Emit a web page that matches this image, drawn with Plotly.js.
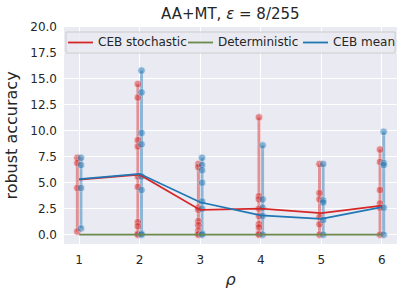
<!DOCTYPE html>
<html>
<head>
<meta charset="utf-8">
<script src="https://cdn.plot.ly/plotly-3.0.1.min.js"></script>
<style>html,body{margin:0;padding:0;background:#fff;}#chart{width:404px;height:294px;}</style>
</head>
<body>
<div id="chart"></div>
<script>
// rho values
var rhoValues = [1, 2, 3, 4, 5, 6];
// individual runs, CEB stochastic
var stochRuns = [
  [7.4, 6.9, 4.5, 0.3],
  [14.5, 13.2, 9.1, 8.5, 5.6, 4.6, 1.2, 0.8, 0.1, 0.0],
  [6.8, 6.5, 2.6, 2.4, 1.3, 0.9, 0.4, 0.1, 0.0],
  [11.3, 3.7, 3.4, 2.5, 1.8, 1.0, 0.7, 0.1, 0.0],
  [6.8, 4.0, 3.4, 1.7, 1.0, 0.0],
  [8.2, 7.0, 4.3, 3.0, 2.6, 0.0]
];
// individual runs, CEB mean
var meanRuns = [
  [7.4, 6.7, 4.5, 0.6],
  [15.8, 13.7, 9.8, 8.7, 5.6, 4.3, 0.1, 0.0],
  [7.4, 6.7, 6.2, 5.0, 3.2, 2.5, 0.1, 0.0],
  [8.6, 3.4, 2.6, 1.8, 0.0],
  [6.8, 3.3, 3.1, 1.4, 0.0],
  [9.9, 6.9, 6.7, 2.6, 0.0]
];
// averaged lines
var stochAvg = [5.3, 5.78, 2.38, 2.5, 2.07, 2.8];
var meanAvg = [5.35, 5.86, 3.12, 1.86, 1.52, 2.64];
var detAvg = [0, 0, 0, 0, 0, 0];

var seriesNames = ['CEB stochastic', 'Deterministic', 'CEB mean'];
var colRed = '#d62728', colGreen = '#6b8a4c', colBlue = '#1f77b4';
var seriesColors = [colRed, colGreen, colBlue];
var offset = 0.03;

function rangeTrace(runs, dx, color) {
  var xs = [], ys = [];
  runs.forEach(function (r, i) {
    xs.push(rhoValues[i] + dx, rhoValues[i] + dx, null);
    ys.push(Math.min.apply(null, r), Math.max.apply(null, r), null);
  });
  return {x: xs, y: ys, mode: 'lines', type: 'scatter', showlegend: false, hoverinfo: 'skip',
          line: {color: color, width: 3}, opacity: 0.45};
}
function pointTrace(runs, dx, color) {
  var xs = [], ys = [];
  runs.forEach(function (r, i) {
    r.forEach(function (v) { xs.push(rhoValues[i] + dx); ys.push(v); });
  });
  return {x: xs, y: ys, mode: 'markers', type: 'scatter', showlegend: false, hoverinfo: 'skip',
          marker: {color: color, size: 7.5, opacity: 0.5, line: {color: '#ffffff', width: 0.6}}};
}

var traces = [
  rangeTrace(stochRuns, -offset, colRed),
  rangeTrace(meanRuns, offset, colBlue),
  pointTrace(stochRuns, -offset, colRed),
  pointTrace(meanRuns, offset, colBlue),
  {x: rhoValues, y: stochAvg, mode: 'lines', type: 'scatter', name: seriesNames[0], showlegend: false, line: {color: colRed, width: 1.8}},
  {x: rhoValues, y: detAvg, mode: 'lines', type: 'scatter', name: seriesNames[1], showlegend: false, line: {color: colGreen, width: 1.8}},
  {x: rhoValues, y: meanAvg, mode: 'lines', type: 'scatter', name: seriesNames[2], showlegend: false, line: {color: colBlue, width: 1.8}}
];

// manual legend (matplotlib-style expanded legend), in paper coordinates
var L = 64, R = 397, T = 27, B = 244;
function px(x) { return (x - L) / (R - L); }
function py(y) { return (B - y) / (B - T); }
var shapes = [{type: 'rect', xref: 'paper', yref: 'paper', layer: 'above',
  x0: px(66), x1: px(395), y0: py(53), y1: py(32),
  fillcolor: 'rgba(234,234,242,0.85)', line: {color: '#cccccc', width: 1}}];
var annotations = [];
var handleStarts = [68, 188, 303];
var ly = py(42.5);
seriesNames.forEach(function (n, i) {
  var h0 = handleStarts[i];
  shapes.push({type: 'line', xref: 'paper', yref: 'paper', layer: 'above',
    x0: px(h0), x1: px(h0 + 25), y0: ly, y1: ly, line: {color: seriesColors[i], width: 1.8}});
  annotations.push({xref: 'paper', yref: 'paper', x: px(h0 + 28), y: ly, xanchor: 'left', yanchor: 'middle',
    text: n, showarrow: false, font: {size: 12, color: '#262626'}});
});

var layout = {
  width: 404, height: 294,
  margin: {l: L, r: 404 - R, t: T, b: 294 - B},
  paper_bgcolor: '#ffffff', plot_bgcolor: '#eaeaf2',
  font: {family: 'DejaVu Sans', color: '#262626', size: 12},
  title: {text: 'AA+MT, <i>ε</i> = 8/255', font: {size: 15, color: '#262626'}, x: 0.57, xanchor: 'center', y: 0.952, yanchor: 'middle'},
  xaxis: {range: [0.75, 6.25], tickvals: rhoValues, ticktext: rhoValues.map(String),
          showgrid: true, gridcolor: '#ffffff', gridwidth: 1, zeroline: false, showline: false, ticks: '',
          ticklabelstandoff: 7,
          tickfont: {size: 12, color: '#262626'},
          title: {text: '<i>ρ</i>', font: {size: 16, color: '#262626'}, standoff: 7}},
  yaxis: {range: [-0.9, 20], dtick: 2.5, tick0: 0, tickformat: '.1f',
          showgrid: true, gridcolor: '#ffffff', gridwidth: 1, zeroline: false, showline: false, ticks: '',
          ticklabelstandoff: 6,
          tickfont: {size: 12, color: '#262626'},
          title: {text: 'robust accuracy', font: {size: 16, color: '#262626'}, standoff: 8}},
  shapes: shapes,
  annotations: annotations,
  showlegend: false
};

Plotly.newPlot('chart', traces, layout, {displayModeBar: false, staticPlot: true});
</script>
</body>
</html>
